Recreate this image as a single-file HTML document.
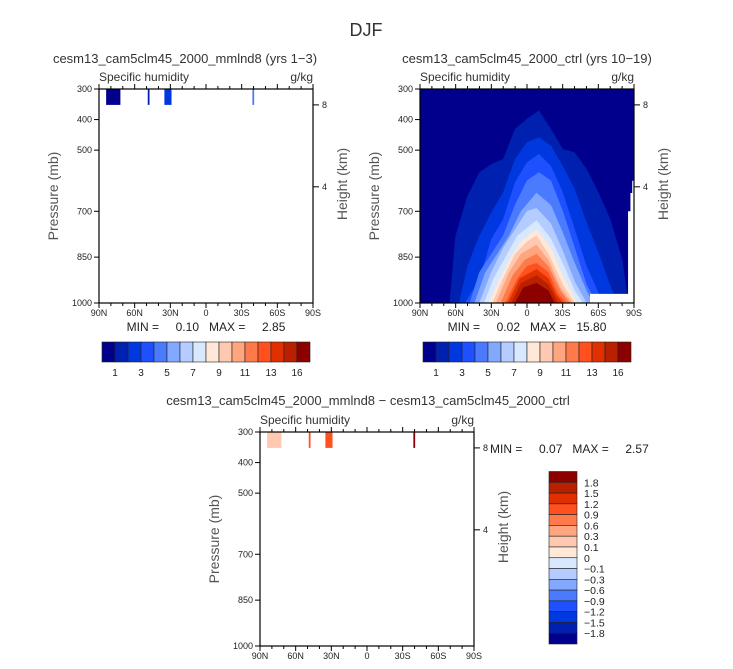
<!DOCTYPE html>
<html><head><meta charset="utf-8"><style>
html,body{margin:0;padding:0;background:#fff;}
svg{display:block;font-family:"Liberation Sans",sans-serif;}
.pre{white-space:pre;}
</style></head><body>
<svg id="fig" width="733" height="669" viewBox="0 0 733 669">
<text x="366" y="36" font-size="18" text-anchor="middle" fill="#333">DJF</text>
<g id="root"></g>
</svg>
<script>
// ---------- data ----------
const colors = ["#00008c","#0020b0","#0038e0","#1e50ff","#4a7bff","#82a8ff","#b4ccff","#d8e8ff","#ffe8d6","#ffc8b0","#ffa680","#ff7a4a","#ff5020","#e03000","#b82000","#8c0000"];
const absLabels = ["1","3","5","7","9","11","13","16"];
const absLabelIdx = [1,3,5,7,9,11,13,15];
const diffLabels = ["1.8","1.5","1.2","0.9","0.6","0.3","0.1","0","\u22120.1","\u22120.3","\u22120.6","\u22120.9","\u22121.2","\u22121.5","\u22121.8"];
const pTicks = [300,400,500,700,850,1000];
const latTicks = [90,60,30,0,-30,-60,-90];
const latTickLabels = ["90N","60N","30N","0","30S","60S","90S"];
const hTicks = [8,4];
const hTickP = [352,620];
// control run contours: level index -> lat/pressure points
const cLat = [
 [65,60,50,40,30,20,10,0,-10,-20,-30,-40,-50,-60,-70,-80,-85],
 [57,50,40,30,20,10,0,-10,-20,-30,-40,-50,-60,-70,-76],
 [52,40,30,20,10,0,-10,-20,-30,-40,-50,-60,-62],
 [48,40,30,20,10,0,-10,-20,-30,-40,-50,-58],
 [44,35,25,15,5,-8,-20,-30,-40,-50,-55],
 [40,30,20,10,0,-8,-20,-30,-40,-50],
 [36,28,18,8,-8,-20,-30,-40,-47],
 [32,25,15,5,-8,-20,-30,-42],
 [29,20,10,0,-8,-18,-30,-40],
 [26,15,5,-8,-18,-28,-38],
 [22,12,2,-8,-18,-28,-36],
 [18,8,0,-8,-18,-26,-33],
 [16,6,-8,-18,-24,-30],
 [13,5,-8,-18,-26],
 [10,3,-8,-18,-23]
];
const cP = [
 [1000,781,650,573,546,530,431,398,371,431,497,508,562,639,727,858,1000],
 [1000,880,781,705,639,530,475,459,486,552,628,737,836,945,1000],
 [1000,924,792,727,606,541,513,552,639,759,880,967,1000],
 [1000,900,840,780,680,600,573,600,700,820,940,1000],
 [1000,900,840,780,700,640,680,770,870,960,1000],
 [1000,900,820,760,700,690,740,830,930,1000],
 [1000,920,850,780,730,790,870,960,1000],
 [1000,940,860,800,760,820,910,1000],
 [1000,920,840,800,780,840,940,1000],
 [1000,900,840,810,860,950,1000],
 [1000,910,860,840,880,960,1000],
 [1000,920,880,870,900,970,1000],
 [1000,920,890,920,970,1000],
 [1000,935,910,940,1000],
 [1000,950,935,960,1000]
];
// test run blocks near 300-350mb
const aLat1 = [84,49,35,-39];
const aLat2 = [72,47.5,29,-40.5];
const aPbot = [352,352,352,352];
const aCol = [0,1,2,4];
// difference blocks
const dLat1 = [84,49,35,-39];
const dLat2 = [72,47.5,29,-40.5];
const dPbot = [352,352,352,352];
const dCol = [9,12,12,15];

const NS="http://www.w3.org/2000/svg";
const root=document.getElementById('root');
function mk(tag,attrs,parent){const e=document.createElementNS(NS,tag);for(const k in attrs)e.setAttribute(k,attrs[k]);(parent||root).appendChild(e);return e;}
function txt(x,y,s,size,anchor,parent,extra){const t=mk('text',Object.assign({x:x,y:y,'font-size':size,'text-anchor':anchor||'start',fill:'#222'},extra||{}),parent);t.textContent=s;return t;}

function panel(x0,y0,w,h,title,tx,name){
  const g=mk('g',{});
  
  
  const X=lat=>x0+(90-lat)/180*w;
  const Y=p=>y0+(p-300)/700*h;
  const t=txt(tx,63,title,13,'middle',g,{fill:'#333'});
  
  
  const s1=txt(x0,81,'Specific humidity',12,'start',g,{fill:'#333'});
  
  
  const s2=txt(x0+w,81,'g/kg',12,'end',g,{fill:'#333'});
  
  
  return {g,X,Y,x0,y0,w,h,s1,s2};
}
function axes(P){
  const {g,X,Y,x0,y0,w,h}=P;
  const cp=mk('clipPath',{id:'c'+x0+y0},g);mk('rect',{x:x0,y:y0,width:w,height:h},cp);
  const frame=mk('rect',{x:x0,y:y0,width:w,height:h,fill:'none',stroke:'#000','stroke-width':1.2},g);
  
  
  for(let lat=90;lat>=-90;lat-=10){
    const major=lat%30===0;const L=major?5:3;
    mk('line',{x1:X(lat),x2:X(lat),y1:y0+h,y2:y0+h+L,stroke:'#000'},g);
    mk('line',{x1:X(lat),x2:X(lat),y1:y0,y2:y0-L,stroke:'#000'},g);
  }
  latTicks.forEach((lat,i)=>{
    const t=txt(X(lat),y0+h+13,latTickLabels[i],9,'middle',g);
    
    
  });
  pTicks.forEach(p=>{
    mk('line',{x1:x0-5,x2:x0,y1:Y(p),y2:Y(p),stroke:'#000'},g);
    const t=txt(x0-7,Y(p)+3,String(p),9,'end',g);
    
    
  });
  hTicks.forEach((hk,i)=>{
    mk('line',{x1:x0+w,x2:x0+w+6,y1:Y(hTickP[i]),y2:Y(hTickP[i]),stroke:'#000'},g);
    const t=txt(x0+w+9,Y(hTickP[i])+3,String(hk),9,'start',g);
    
    
  });
  const yt=txt(0,0,'Pressure (mb)',14,'middle',g,{transform:`translate(${x0-41},${y0+h/2}) rotate(-90)`,fill:'#555'});
  
  
  const ht=txt(0,0,'Height (km)',14,'middle',g,{transform:`translate(${x0+w+34},${y0+h/2-12}) rotate(-90)`,fill:'#555'});
  
  
}
function blocks(P,l1,l2,pb,ci,nm){
  l1.forEach((v,i)=>{
    const r=mk('rect',{x:P.X(v),y:P.Y(300),width:Math.max(1.2,P.X(l2[i])-P.X(v)),height:P.Y(pb[i])-P.Y(300),fill:colors[ci[i]]},P.g);
    
    
  });
}

// Panel A
const A=panel(99,89,214,214,'cesm13_cam5clm45_2000_mmlnd8 (yrs 1\u22123)',185,'panel-test');
blocks(A,aLat1,aLat2,aPbot,aCol,'test');
axes(A);
{const t=txt(206,331,'MIN =     0.10   MAX =     2.85',12,'middle',A.g,{class:'pre'});

}

// Panel B
const B=panel(420,89,214,214,'cesm13_cam5clm45_2000_ctrl (yrs 10\u221219)',527,'panel-ctrl');
{
  const cg=mk('g',{'clip-path':'url(#c42089)'},B.g);
  const bg=mk('rect',{x:B.x0,y:B.y0,width:B.w,height:B.h,fill:colors[0]},cg);
  
  
  cLat.forEach((lats,k)=>{
    const pts=lats.map((l,i)=>[B.X(l),B.Y(cP[k][i])]);
    let d='M'+pts[0][0]+','+(B.Y(1000)+2);
    pts.forEach(p=>{d+=' L'+p[0]+','+p[1];});
    d+=' L'+pts[pts.length-1][0]+','+(B.Y(1000)+2)+' Z';
    const path=mk('path',{d:d,fill:colors[k+1],stroke:colors[k+1],'stroke-width':0.5,'stroke-linejoin':'round'},cg);
    
    
  });
  const m=mk('path',{d:`M${B.X(-53)},${B.Y(970)} L${B.X(-85)},${B.Y(970)} L${B.X(-85)},${B.Y(700)} L${B.X(-87)},${B.Y(700)} L${B.X(-87)},${B.Y(640)} L${B.X(-88.5)},${B.Y(640)} L${B.X(-88.5)},${B.Y(600)} L${B.X(-90)},${B.Y(600)} L${B.X(-90)},${B.Y(1000)} L${B.X(-53)},${B.Y(1000)} Z`,fill:'#fff'},cg);
  
  
}
axes(B);
{const t=txt(527,331,'MIN =     0.02   MAX =   15.80',12,'middle',B.g,{class:'pre'});

}

// horizontal colorbars
function hbar(x0,nm){
  const g=mk('g',{});
  
  
  const bw=13;
  colors.forEach((c,i)=>{
    const r=mk('rect',{x:x0+i*bw,y:342,width:bw,height:20,fill:c,stroke:'#222','stroke-width':0.6},g);
    
    
  });
  absLabels.forEach((s,i)=>{
    const t=txt(x0+absLabelIdx[i]*bw,376,s,10,'middle',g);
    
    
  });
}
hbar(102,'colorbar-test');
hbar(423,'colorbar-ctrl');

// Panel C difference
const C=panel(260,432,214,214,'',368,'panel-diff');
{const t=txt(368,405,'cesm13_cam5clm45_2000_mmlnd8 \u2212 cesm13_cam5clm45_2000_ctrl',13,'middle',C.g,{fill:'#333'});

}
C.s1.setAttribute('y',424);
C.s2.setAttribute('y',424);
blocks(C,dLat1,dLat2,dPbot,dCol,'diff');
axes(C);
{const t=txt(490,453,'MIN =     0.07   MAX =     2.57',12,'start',C.g,{class:'pre'});

}
{
  const g=mk('g',{});
  
  
  const bh=172.5/16;
  colors.slice().reverse().forEach((c,i)=>{
    const r=mk('rect',{x:549,y:471.5+i*bh,width:28,height:bh,fill:c,stroke:'#222','stroke-width':0.6},g);
    
    
  });
  diffLabels.forEach((s,i)=>{
    const t=txt(584,471.5+(i+1)*bh+4,s,10.5,'start',g);
    
    
  });
}
</script>
</body></html>
